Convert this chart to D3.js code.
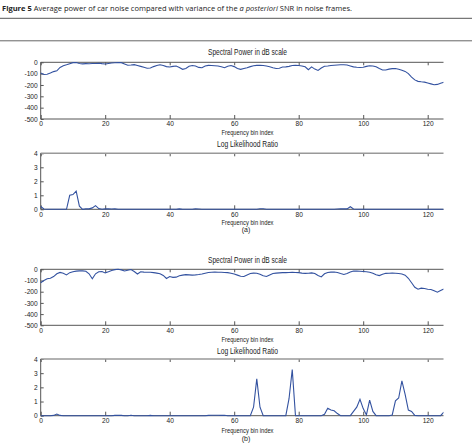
<!DOCTYPE html>
<html><head><meta charset="utf-8">
<script src="https://cdn.jsdelivr.net/npm/d3@7"></script>
<style>
body{margin:0;background:#fff;}
svg{display:block;}
.cap{font-family:"Open Sans","Noto Sans",sans-serif;font-size:7.2px;fill:#222;}
.nar{font-family:"Liberation Sans Narrow","Arial Narrow","Liberation Sans",Arial,sans-serif;fill:#222;}
</style></head><body>
<svg id="c" width="474" height="443"></svg>
<script>
// ---------- data ----------
const bins = d3.range(0, 126);
const xTicks = [0, 20, 40, 60, 80, 100, 120];
const specTicks = [0, -100, -200, -300, -400, -500];
const llrTicks = [0, 1, 2, 3, 4];

const spec1 = [
 -95,-108,-106,-95,-82,-75,-45,-30,-22,-12,
 -3,-2,-10,-14,-12,-13,-11,-10,-8,-12,
 -15,-10,-6,-4,-2,-3,-14,-26,-24,-21,
 -28,-36,-44,-52,-50,-38,-28,-22,-28,-38,
 -42,-36,-33,-45,-62,-55,-35,-28,-33,-45,
 -48,-32,-27,-28,-30,-32,-40,-48,-34,-28,
 -38,-55,-62,-55,-48,-38,-30,-27,-26,-28,
 -32,-40,-48,-55,-52,-42,-40,-36,-28,-26,
 -28,-32,-40,-65,-40,-60,-72,-50,-35,-32,
 -28,-26,-24,-22,-21,-24,-32,-40,-44,-46,
 -44,-36,-30,-33,-40,-55,-68,-68,-60,-56,
 -55,-62,-70,-80,-100,-130,-155,-168,-172,-175,
 -182,-190,-198,-195,-185,-175
];
const llr1 = [
 0.2,0.02,0,0,0,0,0,0,0,1.0,
 1.05,1.3,0.22,0,0.03,0.03,0.1,0.26,0.05,0,
 0.03,0.03,0.02,0.03,0,0,0,0,0,0,
 0,0,0,0,0,0,0,0,0,0,
 0,0,0,0.03,0,0,0,0,0.03,0.02,
 0,0,0,0,0,0,0,0,0,0,
 0,0,0,0,0,0,0,0,0.04,0.04,
 0,0,0,0,0,0,0,0,0,0,
 0,0,0,0,0,0,0,0,0,0,
 0,0,0.02,0.03,0.03,0.03,0.18,0.02,0,0,
 0,0,0,0,0,0,0,0,0,0,
 0,0,0,0,0,0,0,0,0,0,
 0,0,0,0,0,0
];
const spec2 = [
 -120,-100,-85,-80,-65,-40,-28,-35,-50,-30,
 -22,-16,-14,-14,-18,-40,-85,-40,-22,-20,
 -32,-22,-10,-3,0,-5,-15,-8,-2,-20,
 -42,-22,-25,-27,-26,-30,-34,-40,-55,-82,
 -65,-72,-70,-58,-52,-48,-50,-52,-50,-47,
 -42,-35,-28,-26,-25,-26,-27,-28,-30,-35,
 -42,-52,-62,-64,-50,-38,-34,-35,-45,-58,
 -64,-50,-38,-34,-32,-30,-30,-28,-27,-28,
 -30,-34,-36,-35,-32,-38,-55,-68,-40,-28,
 -25,-24,-28,-38,-46,-38,-25,-15,-16,-18,
 -20,-22,-26,-35,-48,-56,-45,-36,-35,-34,
 -35,-38,-42,-52,-80,-120,-160,-178,-168,-172,
 -178,-180,-192,-205,-190,-175
];
const llr2 = [
 0,0,0,0,0.02,0.12,0.02,0,0,0,
 0,0,0,0,0,0,0,0,0,0,
 0,0,0,0.02,0.03,0.02,0,0,0.03,0,
 0,0,0,0,0.02,0,0,0,0,0,
 0,0,0,0,0,0,0,0,0,0,
 0,0,0.02,0.03,0.03,0.03,0.02,0.03,0,0,
 0,0,0,0,0,0,0.6,2.6,0.6,0,
 0,0,0,0,0,0,0,1.2,3.25,0,
 0,0,0,0,0,0,0,0,0.1,0.52,
 0.4,0.35,0.15,0,0,0,0,0.3,0.6,1.15,
 0.5,0.05,1.1,0.3,0,0,0,0,0,0.05,
 1.05,1.25,2.45,1.5,0.4,0.3,0.02,0,0,0,
 0,0,0,0,0,0.25
];

const titleSpec = "Spectral Power in dB scale";
const titleLLR = "Log Likelihood Ratio";
const xLabel = "Frequency bin index";

// ---------- layout ----------
const svg = d3.select("#c");
const lineColor = "#3352a0", axColor = "#555";
const x = d3.scaleLinear().domain([0, 128]).range([40.7, 453.5]);
const clipRight = 443.5;
const cx = 247.5;
const fmt = d => String(d);

svg.append("defs").append("clipPath").attr("id","clp")
  .append("rect").attr("x",0).attr("y",0).attr("width",clipRight).attr("height",443);

// caption
const cap = svg.append("text").attr("class","cap").attr("x",2).attr("y",11)
  .attr("textLength",350).attr("lengthAdjust","spacingAndGlyphs");
cap.append("tspan").attr("font-weight","bold").text("Figure 5");
cap.append("tspan").text(" Average power of car noise compared with variance of the ");
cap.append("tspan").attr("font-style","italic").text("a posteriori");
cap.append("tspan").text(" SNR in noise frames.");
svg.append("line").attr("x1",0).attr("x2",472).attr("y1",18.3).attr("y2",18.3).attr("stroke","#555").attr("stroke-width",1);
svg.append("line").attr("x1",0).attr("x2",472).attr("y1",40.8).attr("y2",40.8).attr("stroke","#666").attr("stroke-width",1);

const panels = [
  {data: spec1, kind:"spec", top:62.3, bottom:119, titleY:55, labelY:135, sub:null},
  {data: llr1, kind:"llr", top:153.3, bottom:209.3, titleY:147, labelY:225, sub:"(a)", subY:232},
  {data: spec2, kind:"spec", top:269.3, bottom:325.3, titleY:263, labelY:342, sub:null},
  {data: llr2, kind:"llr", top:359, bottom:415.7, titleY:354, labelY:433, sub:"(b)", subY:441}
];

panels.forEach(p => {
  const g = svg.append("g");
  const y = d3.scaleLinear()
    .domain(p.kind === "spec" ? [-500, 0] : [0, 4])
    .range([p.bottom, p.top]);

  // title
  g.append("text").attr("class","nar").attr("x",cx).attr("y",p.titleY)
    .attr("text-anchor","middle").attr("font-size",8.2)
    .attr("textLength", p.kind==="spec"?79:61).attr("lengthAdjust","spacingAndGlyphs")
    .text(p.kind === "spec" ? titleSpec : titleLLR);

  // bottom axis
  const bx = g.append("g").attr("transform",`translate(0,${p.bottom})`)
    .call(d3.axisBottom(x).tickValues(xTicks).tickFormat(fmt).tickSizeInner(-4).tickSizeOuter(0).tickPadding(2.6));
  bx.select(".domain").remove();
  bx.selectAll("line").attr("stroke",axColor);
  bx.selectAll("text").attr("class","nar").attr("font-size",6.6).attr("fill","#333");

  // top axis ticks
  const tx = g.append("g").attr("transform",`translate(0,${p.top})`)
    .call(d3.axisTop(x).tickValues(xTicks).tickSizeInner(-3).tickSizeOuter(0).tickFormat(""));
  tx.select(".domain").remove();
  tx.selectAll("line").attr("stroke",axColor);

  // left axis
  const ly = g.append("g").attr("transform",`translate(${x(0)},0)`)
    .call(d3.axisLeft(y).tickValues(p.kind==="spec"?specTicks:llrTicks).tickFormat(fmt).tickSizeInner(-3).tickSizeOuter(0).tickPadding(3));
  ly.select(".domain").remove();
  ly.selectAll("line").attr("stroke",axColor);
  ly.selectAll("text").attr("class","nar").attr("font-size",6.6).attr("fill","#333");

  // frame lines
  g.append("line").attr("x1",x(0)).attr("x2",clipRight).attr("y1",p.top).attr("y2",p.top)
    .attr("stroke", p.kind==="spec" ? axColor : "#999").attr("stroke-width", p.kind==="spec"?1:1.4);
  g.append("line").attr("x1",x(0)).attr("x2",clipRight).attr("y1",p.bottom).attr("y2",p.bottom)
    .attr("stroke",axColor);
  g.append("line").attr("x1",x(0)).attr("x2",x(0)).attr("y1",p.top).attr("y2",p.bottom)
    .attr("stroke",axColor);

  // data line
  const line = d3.line().x((d,i)=>x(bins[i])).y(d=>y(d));
  g.append("path").datum(p.data).attr("d",line).attr("fill","none")
    .attr("stroke",lineColor).attr("stroke-width",1.1).attr("clip-path","url(#clp)");

  // x label
  g.append("text").attr("class","nar").attr("x",cx).attr("y",p.labelY)
    .attr("text-anchor","middle").attr("font-size",7)
    .attr("textLength",52).attr("lengthAdjust","spacingAndGlyphs").text(xLabel);
  if (p.sub) {
    g.append("text").attr("class","nar").attr("x",246).attr("y",p.subY)
      .attr("text-anchor","middle").attr("font-size",7).text(p.sub);
  }
});
</script>
</body></html>
